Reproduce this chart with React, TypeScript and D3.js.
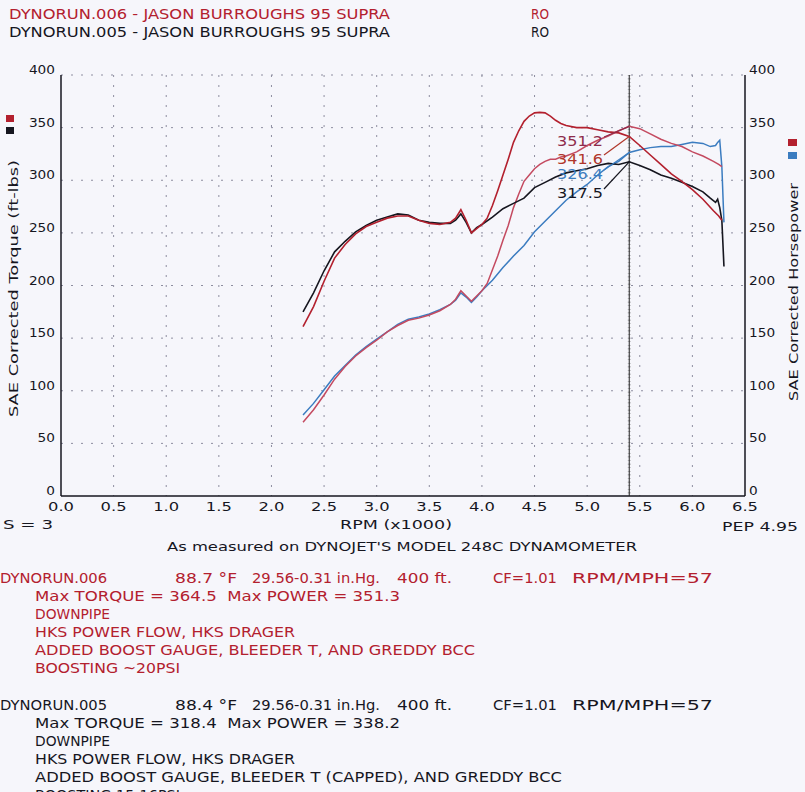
import { useEffect } from 'react';
import * as d3 from 'd3';

// run 006 (red) and run 005 (black torque / blue power), rpm in x1000
const rpm006 = [2.3, 2.4, 2.5, 2.6, 2.7, 2.8, 2.9, 3.0, 3.1, 3.2, 3.3, 3.4, 3.5, 3.6, 3.7, 3.75, 3.8, 3.85, 3.9, 3.95, 4.0, 4.05, 4.1, 4.15, 4.2, 4.25, 4.3, 4.35, 4.4, 4.45, 4.5, 4.55, 4.6, 4.65, 4.7, 4.75, 4.8, 4.9, 5.0, 5.1, 5.2, 5.3, 5.4, 5.5, 5.6, 5.7, 5.8, 5.9, 6.0, 6.1, 6.2, 6.25, 6.28];
const torque006 = [161, 180, 204, 226, 239, 249, 256, 260, 264, 266, 266, 262, 259, 258, 260, 264, 272, 262, 250, 254, 258, 264, 276, 290, 305, 320, 336, 347, 356, 361, 364, 364.5, 364, 361, 357, 354, 352, 350, 350, 348, 346, 345, 341.6, 333, 324, 315, 306, 299, 291, 282, 271, 266, 262];
const power006 = [70, 82, 96, 111, 123, 133, 141, 148, 156, 162, 167, 169, 172, 176, 182, 187, 195, 190, 185, 190, 195, 202, 215, 228, 243, 257, 274, 287, 299, 305, 311, 315, 318, 320, 320, 322, 323, 327, 333, 338, 342, 347, 351.2, 349, 344, 339, 335, 332, 327, 323, 318, 315, 313];

const rpm005 = [2.3, 2.4, 2.5, 2.6, 2.7, 2.8, 2.9, 3.0, 3.1, 3.2, 3.3, 3.4, 3.5, 3.6, 3.7, 3.75, 3.8, 3.85, 3.9, 3.95, 4.0, 4.1, 4.2, 4.3, 4.4, 4.5, 4.6, 4.7, 4.8, 4.9, 5.0, 5.1, 5.2, 5.3, 5.4, 5.5, 5.6, 5.7, 5.8, 5.9, 6.0, 6.1, 6.17, 6.22, 6.24, 6.26, 6.28, 6.3];
const torque005 = [175, 193, 214, 232, 242, 251, 257, 262, 265, 268, 267, 262, 260, 259, 259, 262, 268, 260, 250, 255, 258, 265, 273, 278, 283, 293, 298, 303, 307, 309, 311, 314, 316, 315, 317.5, 314, 310, 305, 302, 298, 294, 289, 283, 279, 282, 274, 262, 218];
const power005 = [77, 88, 101, 114, 124, 134, 142, 149, 156, 163, 168, 170, 173, 177, 182, 186, 193, 189, 184, 189, 195, 205, 217, 228, 238, 251, 261, 271, 281, 289, 296, 305, 313, 318, 326.4, 329, 331, 332, 332, 334, 336, 335, 332, 333, 336, 338, 313, 260];

const cursorRpm = 5.4;
const xTickValues = [0, 0.5, 1, 1.5, 2, 2.5, 3, 3.5, 4, 4.5, 5, 5.5, 6, 6.5];
const xTickLabels = ['0.0', '0.5', '1.0', '1.5', '2.0', '2.5', '3.0', '3.5', '4.0', '4.5', '5.0', '5.5', '6.0', '6.5'];
const yTickValues = [0, 50, 100, 150, 200, 250, 300, 350, 400];

const RED = '#b3202e';
const RED_HP = '#c44a60';
const BLACK = '#16161f';
const BLUE = '#3b7cc0';
const GRID = '#8e8ea0';
const FONT = '"DejaVu Sans", Verdana, sans-serif';

const x = d3.scaleLinear().domain([0, 6.5]).range([61, 745]);
const y = d3.scaleLinear().domain([0, 400]).range([496, 75]);

const lineOf = (rpms: number[], vals: number[]) =>
  d3.line<number>()
    .x((_, i) => x(rpms[i]))
    .y(d => y(d))(vals) || '';

// plain text with its measured width forced through textLength
const Txt = ({ x: tx, y: ty, w, s, fill = BLACK, size = 13, anchor = 'start', rotate }: {
  x: number; y: number; w: number; s: string; fill?: string; size?: number; anchor?: string; rotate?: boolean;
}) => (
  <text
    x={tx}
    y={ty}
    fill={fill}
    fontSize={size}
    fontFamily={FONT}
    textAnchor={anchor}
    textLength={w}
    lengthAdjust="spacingAndGlyphs"
    style={{ whiteSpace: 'pre' }}
    transform={rotate ? `rotate(-90 ${tx} ${ty})` : undefined}
  >
    {s}
  </text>
);

const runLines = (run: string, temp: string, maxT: string, maxP: string, boost: string, bleed: string, y0: number, fill: string, bleedW: number) => (
  <g>
    <Txt x={0} y={y0} w={107} s={run} fill={fill} size={13.5} />
    <Txt x={175} y={y0} w={62} s={temp} fill={fill} size={13.5} />
    <Txt x={252} y={y0} w={128} s="29.56-0.31 in.Hg." fill={fill} size={13.5} />
    <Txt x={397} y={y0} w={55} s="400 ft." fill={fill} size={13.5} />
    <Txt x={493} y={y0} w={64} s="CF=1.01" fill={fill} size={13.5} />
    <Txt x={572} y={y0} w={141} s="RPM/MPH=57" fill={fill} size={13.5} />
    <Txt x={35} y={y0 + 18} w={365} s={`Max TORQUE = ${maxT}  Max POWER = ${maxP}`} fill={fill} size={13.5} />
    <Txt x={35} y={y0 + 36} w={75} s="DOWNPIPE" fill={fill} size={13.5} />
    <Txt x={35} y={y0 + 54} w={260} s="HKS POWER FLOW, HKS DRAGER" fill={fill} size={13.5} />
    <Txt x={35} y={y0 + 72} w={bleedW} s={bleed} fill={fill} size={13.5} />
    <Txt x={35} y={y0 + 90} w={145} s={boost} fill={fill} size={13.5} />
  </g>
);

export default function App() {
  useEffect(() => {
    document.body.style.margin = '0';
  }, []);

  const cx = x(cursorRpm);
  const at = (rpms: number[], vals: number[]) => vals[rpms.indexOf(cursorRpm)];
  const cursorLabels = [
    { v: at(rpm006, power006), fill: '#8e2c4c', base: 146 },
    { v: at(rpm006, torque006), fill: '#b0362a', base: 164 },
    { v: at(rpm005, power005), fill: BLUE, base: 179 },
    { v: at(rpm005, torque005), fill: BLACK, base: 198 },
  ];

  return (
    <svg width={805} height={792} style={{ position: 'absolute', left: 0, top: 0, display: 'block' }}>
      <rect width={805} height={792} fill="#f6f6fb" />

      {/* header */}
      <Txt x={9} y={19} w={381} s="DYNORUN.006 - JASON BURROUGHS 95 SUPRA" fill={RED} size={14} />
      <Txt x={531} y={19} w={18} s="RO" fill={RED} size={14} />
      <Txt x={9} y={37} w={381} s="DYNORUN.005 - JASON BURROUGHS 95 SUPRA" fill={BLACK} size={14} />
      <Txt x={531} y={37} w={18} s="RO" fill={BLACK} size={14} />

      {/* grid */}
      {yTickValues.slice(1).map(v => (
        <line key={`h${v}`} x1={x(0)} x2={x(6.5)} y1={y(v)} y2={y(v)} stroke={GRID} strokeWidth={1} strokeDasharray="2 8" />
      ))}
      {xTickValues.slice(1, -1).map(v => (
        <line key={`v${v}`} x1={x(v)} x2={x(v)} y1={y(400)} y2={y(0)} stroke={GRID} strokeWidth={1} strokeDasharray="2 8" />
      ))}

      {/* axes */}
      <line x1={x(0)} x2={x(0)} y1={y(400)} y2={y(0)} stroke={BLACK} strokeWidth={1.5} />
      <line x1={x(6.5)} x2={x(6.5)} y1={y(400)} y2={y(0)} stroke={BLACK} strokeWidth={1.5} />
      <line x1={x(0)} x2={x(6.5)} y1={y(0)} y2={y(0)} stroke={BLACK} strokeWidth={1.5} />

      {yTickValues.map(v => (
        <g key={`yl${v}`}>
          <Txt x={55} y={y(v) - 1} w={String(v).length * 8.7} s={String(v)} anchor="end" />
          <Txt x={749} y={y(v) - 1} w={String(v).length * 8.7} s={String(v)} />
        </g>
      ))}
      {xTickValues.map((v, i) => (
        <Txt key={`xl${v}`} x={x(v)} y={511} w={26} s={xTickLabels[i]} anchor="middle" />
      ))}

      {/* axis titles and legend keys */}
      <Txt x={18} y={417} w={257} s="SAE Corrected Torque (ft-lbs)" rotate />
      <Txt x={798} y={401} w={218} s="SAE Corrected Horsepower" rotate />
      <rect x={6} y={115} width={8} height={7} fill={RED} />
      <rect x={6} y={127} width={8} height={7} fill={BLACK} />
      <rect x={788} y={139} width={9} height={7} fill={RED} />
      <rect x={788} y={152} width={9} height={7} fill={BLUE} />

      <Txt x={3} y={529} w={50} s="S = 3" />
      <Txt x={340} y={529} w={112} s="RPM (x1000)" />
      <Txt x={722} y={531} w={76} s="PEP 4.95" />
      <Txt x={167} y={551} w={470} s="As measured on DYNOJET'S MODEL 248C DYNAMOMETER" />

      {/* cursor */}
      <line x1={cx} x2={cx} y1={y(400)} y2={y(0)} stroke="#222" strokeWidth={1} />
      <line x1={cx} x2={cx} y1={y(400)} y2={y(0)} stroke="#222" strokeWidth={3} strokeDasharray="0.6 3" opacity={0.5} />

      {/* curves */}
      <path d={lineOf(rpm005, power005)} fill="none" stroke={BLUE} strokeWidth={1.5} />
      <path d={lineOf(rpm006, power006)} fill="none" stroke={RED_HP} strokeWidth={1.5} />
      <path d={lineOf(rpm005, torque005)} fill="none" stroke={BLACK} strokeWidth={1.6} />
      <path d={lineOf(rpm006, torque006)} fill="none" stroke={RED} strokeWidth={1.6} />

      {/* cursor readouts */}
      {cursorLabels.map(l => (
        <g key={l.v}>
          <line x1={604} y1={l.base - 9} x2={cx} y2={y(l.v)} stroke={l.fill} strokeWidth={1.2} />
          <Txt x={557} y={l.base} w={46} s={l.v.toFixed(1)} fill={l.fill} size={13.5} />
        </g>
      ))}

      {/* run notes */}
      {runLines('DYNORUN.006', '88.7 °F', '364.5', '351.3', 'BOOSTING ~20PSI', 'ADDED BOOST GAUGE, BLEEDER T, AND GREDDY BCC', 583, RED, 440)}
      {runLines('DYNORUN.005', '88.4 °F', '318.4', '338.2', 'BOOSTING 15-16PSI', 'ADDED BOOST GAUGE, BLEEDER T (CAPPED), AND GREDDY BCC', 710, BLACK, 527)}
    </svg>
  );
}
